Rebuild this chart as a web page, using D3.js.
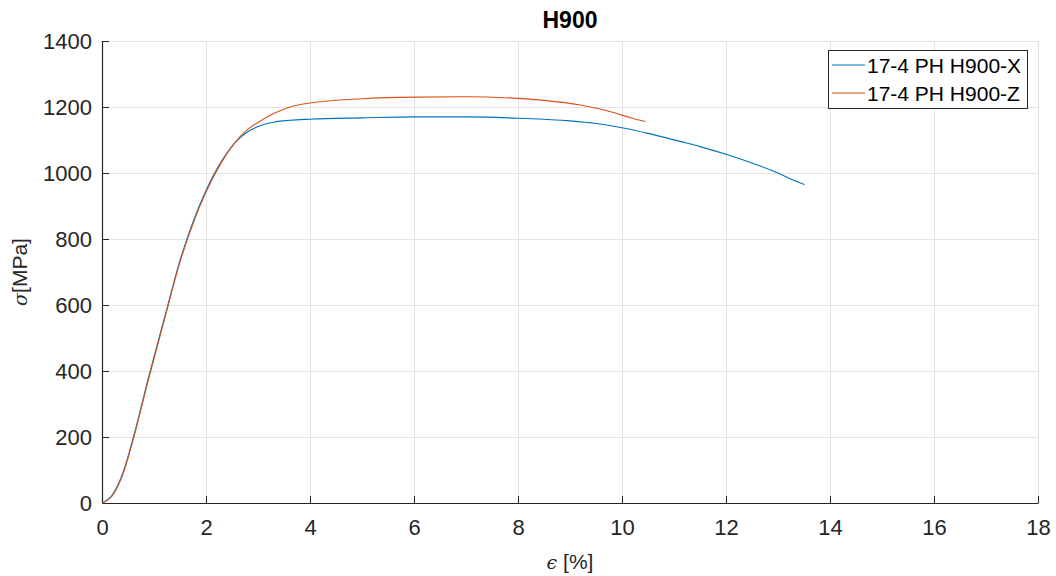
<!DOCTYPE html>
<html>
<head>
<meta charset="utf-8">
<script src="https://cdn.jsdelivr.net/npm/d3@7"></script>
<style>
  html, body { margin: 0; padding: 0; background: #fff; }
  svg { display: block; font-family: "Liberation Sans", Arial, sans-serif; }
</style>
</head>
<body>
<svg id="chart" width="1056" height="576"></svg>
<script>
// ---- data ----
const seriesNames = ["17-4 PH H900-X", "17-4 PH H900-Z"];
const seriesColors = ["#0072BD", "#D95319"];

const strainX = [0, 0.2, 0.4, 0.6, 0.9, 1.2, 1.5, 1.75, 2.0, 2.3, 2.56, 2.8, 3.0, 3.3, 3.62, 4, 5, 6, 7, 8, 9, 9.5, 10, 10.5, 11.13, 11.5, 12.03, 12.5, 13, 13.3, 13.51];
const stressX = [0, 25, 90, 197, 384, 560, 735, 852, 947, 1036, 1092, 1125, 1141, 1154, 1160, 1163, 1167, 1170, 1170, 1166, 1158, 1150, 1137, 1120, 1095, 1080, 1055, 1030, 1000, 978, 965];

const strainZ = [0, 0.2, 0.4, 0.6, 0.9, 1.2, 1.5, 1.75, 2.0, 2.3, 2.56, 2.8, 3.0, 3.3, 3.62, 4, 5, 6, 7, 8, 8.5, 9.2, 9.8, 10.2, 10.45];
const stressZ = [0, 22, 86, 192, 378, 555, 730, 846, 942, 1033, 1093, 1132, 1153, 1180, 1200, 1212, 1225, 1230, 1231, 1226, 1220, 1206, 1185, 1166, 1156];

const xTicks = [0, 2, 4, 6, 8, 10, 12, 14, 16, 18];
const yTicks = [0, 200, 400, 600, 800, 1000, 1200, 1400];

const titleText = "H900";

// ---- layout ----
const svg = d3.select("#chart");
const margin = {left: 102, right: 18, top: 41, bottom: 73};
const W = 1056, H = 576;
const x = d3.scaleLinear().domain([0, 18]).range([margin.left, W - margin.right]);
const y = d3.scaleLinear().domain([0, 1400]).range([H - margin.bottom, margin.top]);

// grid
const grid = svg.append("g");
grid.selectAll("line.vg").data(xTicks).join("line")
  .attr("x1", d => x(d)).attr("x2", d => x(d))
  .attr("y1", y(0)).attr("y2", y(1400))
  .attr("stroke", "#e3e3e3").attr("stroke-width", 1).attr("shape-rendering", "crispEdges");
grid.selectAll("line.hg").data(yTicks).join("line")
  .attr("x1", x(0)).attr("x2", x(18))
  .attr("y1", d => y(d)).attr("y2", d => y(d))
  .attr("stroke", "#e3e3e3").attr("stroke-width", 1).attr("shape-rendering", "crispEdges");

// axes
const axisColor = "#262626";
const xAxis = svg.append("g").attr("transform", `translate(0,${y(0)})`)
  .call(d3.axisBottom(x).tickValues(xTicks).tickFormat(d3.format("d")).tickSizeInner(-7).tickSizeOuter(0).tickPadding(17));
const yAxis = svg.append("g").attr("transform", `translate(${x(0)},0)`)
  .call(d3.axisLeft(y).tickValues(yTicks).tickFormat(d3.format("d")).tickSizeInner(-7).tickSizeOuter(0).tickPadding(10));
[xAxis, yAxis].forEach(g => {
  g.select(".domain").attr("stroke", axisColor).attr("stroke-width", 1.2);
  g.selectAll(".tick line").attr("stroke", axisColor).attr("stroke-width", 1);
  g.selectAll(".tick text").attr("fill", "#262626").attr("font-size", 22)
    .attr("font-family", "'Liberation Sans', Arial, sans-serif");
});
xAxis.selectAll(".tick text").attr("dy", "0.68em");
yAxis.selectAll(".tick text").attr("dy", "0.35em");

// lines
const line = d3.line().x(d => x(d[0])).y(d => y(d[1])).curve(d3.curveMonotoneX);
const dataX = strainX.map((v, i) => [v, stressX[i]]);
const dataZ = strainZ.map((v, i) => [v, stressZ[i]]);
[dataX, dataZ].forEach((data, i) => {
  svg.append("path").datum(data)
    .attr("d", line)
    .attr("fill", "none")
    .attr("stroke", seriesColors[i])
    .attr("stroke-width", 1.1);
});

// title
svg.append("text").attr("x", (x(0) + x(18)) / 2).attr("y", 28)
  .attr("text-anchor", "middle").attr("font-weight", "bold").attr("font-size", 23)
  .attr("fill", "#000").text(titleText);

// x label
const xl = svg.append("text").attr("x", (x(0) + x(18)) / 2).attr("y", 569)
  .attr("text-anchor", "middle").attr("font-size", 21).attr("fill", "#262626");
xl.append("tspan").attr("font-style", "italic").attr("font-family", "'DejaVu Serif', serif").attr("font-size", 19).text("\u03F5");
xl.append("tspan").text(" [%]");

// y label
const yl = svg.append("text")
  .attr("transform", `translate(27,${(y(0) + y(1400)) / 2}) rotate(-90)`)
  .attr("text-anchor", "middle").attr("font-size", 21).attr("fill", "#262626");
yl.append("tspan").attr("font-style", "italic").attr("font-family", "'DejaVu Serif', serif").attr("font-size", 19).text("\u03C3");
yl.append("tspan").text("[MPa]");

// legend
const lg = svg.append("g");
lg.append("rect").attr("x", 828.5).attr("y", 50.5).attr("width", 199).attr("height", 58)
  .attr("fill", "#fff").attr("stroke", "#262626").attr("stroke-width", 1);
seriesNames.forEach((name, i) => {
  const cy = 65 + i * 28;
  lg.append("line").attr("x1", 832).attr("x2", 865).attr("y1", cy).attr("y2", cy)
    .attr("stroke", seriesColors[i]).attr("stroke-width", 1.1);
  lg.append("text").attr("x", 867).attr("y", cy).attr("dy", "0.36em")
    .attr("font-size", 21).attr("fill", "#000").text(name);
});
</script>
</body>
</html>
